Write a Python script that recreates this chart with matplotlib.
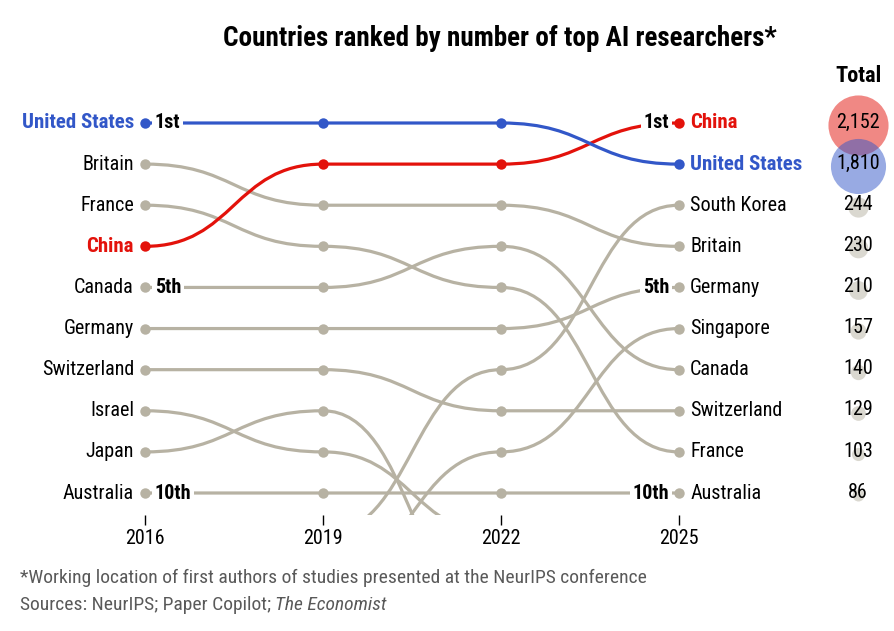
import matplotlib.pyplot as plt
from matplotlib.path import Path
from matplotlib.patches import PathPatch

plt.rcParams['font.family'] = ['Roboto Condensed', 'DejaVu Sans']

years = [2016, 2019, 2022, 2025]
countries = ['United States', 'China', 'Britain', 'France', 'Canada', 'Germany',
             'Switzerland', 'Israel', 'Japan', 'Australia', 'South Korea', 'Singapore']
# rank in each year, None = not known / far outside the top ten
rank_us = [1, 1, 1, 2]
rank_china = [4, 2, 2, 1]
rank_britain = [2, 3, 3, 4]
rank_france = [3, 4, 5, 9]
rank_canada = [5, 5, 4, 7]
rank_germany = [6, 6, 6, 5]
rank_switzerland = [7, 7, 8, 8]
rank_israel = [8, 9, 11, None]
rank_japan = [9, 8, 13, None]
rank_australia = [10, 10, 10, 10]
rank_skorea = [None, 11, 7, 3]
rank_singapore = [None, 12, 9, 6]
ranks = dict(zip(countries, [rank_us, rank_china, rank_britain, rank_france, rank_canada,
                             rank_germany, rank_switzerland, rank_israel, rank_japan,
                             rank_australia, rank_skorea, rank_singapore]))

total_countries = ['China', 'United States', 'South Korea', 'Britain', 'Germany',
                   'Singapore', 'Canada', 'Switzerland', 'France', 'Australia']
totals = [2152, 1810, 244, 230, 210, 157, 140, 129, 103, 86]
ordinals = {1: '1st', 5: '5th', 10: '10th'}

RED = '#E3120B'
BLUE = '#3257C8'
GREY = '#B7B2A3'
colours = {'United States': BLUE, 'China': RED}
FS = 14.5


def bump_path(xs, ys):
    verts = [(xs[0], ys[0])]
    codes = [Path.MOVETO]
    for x0, y0, x1, y1 in zip(xs[:-1], ys[:-1], xs[1:], ys[1:]):
        xm = (x0 + x1) / 2
        verts += [(xm, y0), (xm, y1), (x1, y1)]
        codes += [Path.CURVE4] * 3
    return Path(verts, codes)


W, H = 895, 631
fig = plt.figure(figsize=(W / 100, H / 100), dpi=100)
# axes spans the full width, from y=60px down to 515px (lines are cut there)
ax = fig.add_axes([0, (H - 515) / H, 1, (515 - 60) / H])
px_year = (679 - 145) / 9
px_rank = (493 - 123) / 9
ax.set_xlim(2016 - 145 / px_year, 2016 + (W - 145) / px_year)
ax.set_ylim(1 + (515 - 123) / px_rank, 1 - (123 - 60) / px_rank)
for s in ax.spines.values():
    s.set_visible(False)
ax.set_yticks([])
ax.set_xticks(years)
ax.tick_params(axis='x', length=7, width=1, pad=3, labelsize=FS)

for name in countries[::-1]:
    col = colours.get(name, GREY)
    z = 3 if name in colours else 2
    r = ranks[name]
    # split into runs of known ranks
    run = []
    for yr, rk in list(zip(years, r)) + [(None, None)]:
        if rk is None:
            if len(run) > 1:
                xs, ys = zip(*run)
                ax.add_patch(PathPatch(bump_path(xs, ys), fill=False, edgecolor=col,
                                       lw=2.3, zorder=z, capstyle='butt'))
            run = []
        else:
            run.append((yr, rk))
    pts = [(yr, rk) for yr, rk in zip(years, r) if rk is not None and rk <= 10]
    if pts:
        xs, ys = zip(*pts)
        ax.plot(xs, ys, 'o', color=col, ms=7.5, mew=0, zorder=z + 0.5)

# country names and rank markers at both ends
for name in countries:
    col = colours.get(name, 'black')
    weight = 'bold' if name in colours else 'normal'
    size = FS + 0.5 if name in colours else FS
    r0, r1 = ranks[name][0], ranks[name][-1]
    if r0 is not None and r0 <= 10:
        ax.annotate(name, (2016, r0), xytext=(-8, 0), textcoords='offset points',
                    ha='right', va='center', fontsize=size, color=col, fontweight=weight)
        if r0 in ordinals:
            ax.annotate(ordinals[r0], (2016, r0), xytext=(7, 0), textcoords='offset points',
                        ha='left', va='center', fontsize=FS, fontweight='bold', zorder=5,
                        bbox=dict(boxstyle='square,pad=0.12', fc='white', ec='none'))
    if r1 is not None and r1 <= 10:
        ax.annotate(name, (2025, r1), xytext=(8, 0), textcoords='offset points',
                    ha='left', va='center', fontsize=size, color=col, fontweight=weight)
        if r1 in ordinals:
            ax.annotate(ordinals[r1], (2025, r1), xytext=(-7, 0), textcoords='offset points',
                        ha='right', va='center', fontsize=FS, fontweight='bold', zorder=5,
                        bbox=dict(boxstyle='square,pad=0.12', fc='white', ec='none'))

# totals column, circle area proportional to value
x_tot = 2016 + (858 - 145) / px_year
for name, tot in zip(total_countries, totals):
    rk = ranks[name][-1]
    col = colours.get(name, GREY)
    ax.scatter([x_tot], [rk + 0.05], s=tot * 0.87, color=col, alpha=0.5, lw=0, zorder=3)
    ax.text(x_tot, rk - 0.02, f'{tot:,}', ha='center', va='center', fontsize=FS, zorder=4)
ax.text(x_tot, 1 - (123 - 76) / px_rank, 'Total', ha='center', va='center',
        fontsize=16, fontweight='bold')

fig.text(500 / W, 1 - 38 / H, 'Countries ranked by number of top AI researchers*',
         ha='center', va='center', fontsize=19.5, fontweight='bold')

fig.text(20 / W, 1 - 578 / H,
         '*Working location of first authors of studies presented at the NeurIPS conference',
         ha='left', va='center', fontsize=14, color='#595959')
src = fig.text(20 / W, 1 - 605 / H, 'Sources: NeurIPS; Paper Copilot; ',
               ha='left', va='center', fontsize=14, color='#595959')
fig.canvas.draw()
bb = src.get_window_extent()
fig.text(bb.x1 / W, 1 - 605 / H, 'The Economist', ha='left', va='center',
         fontsize=14, color='#595959', style='italic')

fig.savefig('out.png', dpi=100)
